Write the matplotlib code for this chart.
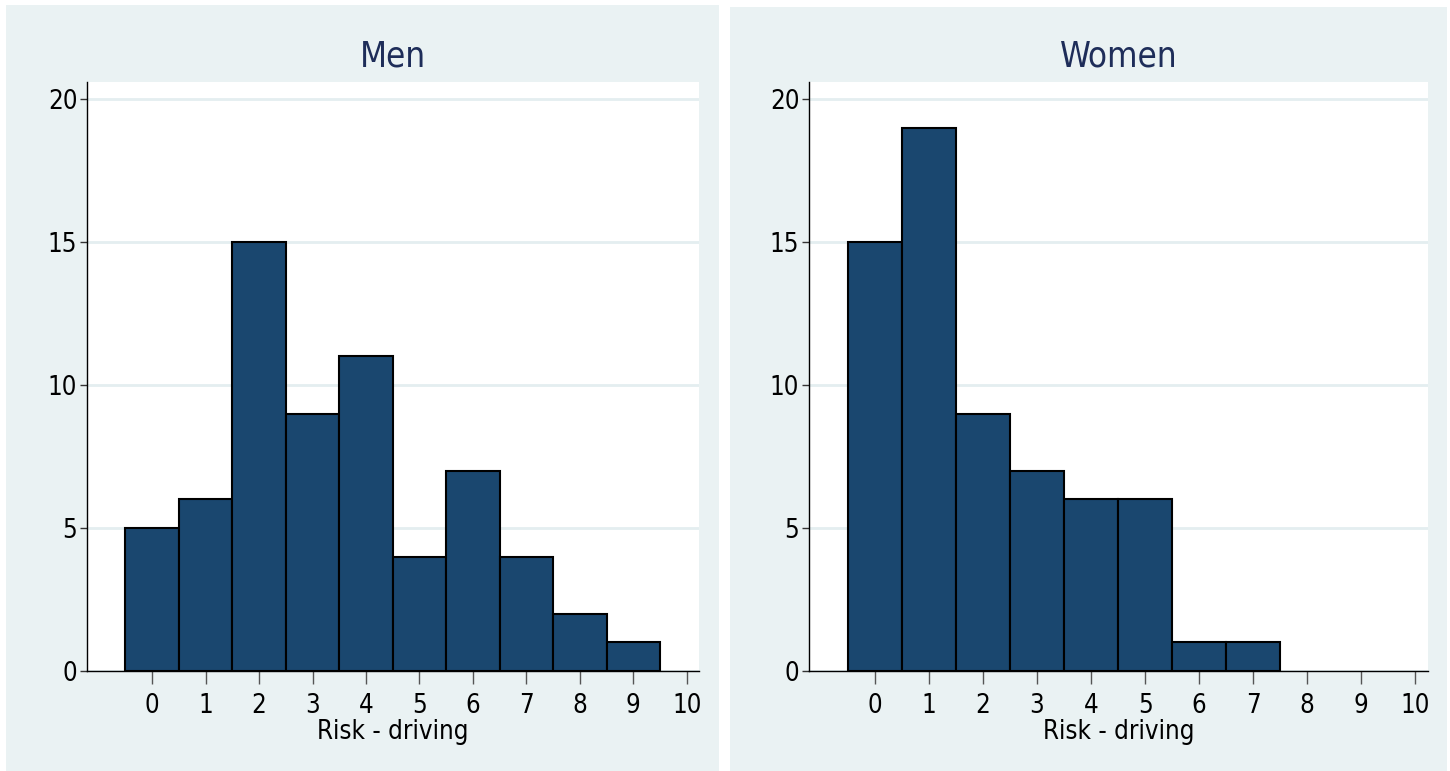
import matplotlib
matplotlib.use("Agg")
import os
import matplotlib.pyplot as plt
from matplotlib.patches import Rectangle
from matplotlib import font_manager
from matplotlib.font_manager import FontProperties

# ---- data ----
bins = [0, 1, 2, 3, 4, 5, 6, 7, 8, 9]
men_counts = [5, 6, 15, 9, 11, 4, 7, 4, 2, 1]
women_counts = [15, 19, 9, 7, 6, 6, 1, 1, 0, 0]
panel_titles = ["Men", "Women"]
x_ticks = [0, 1, 2, 3, 4, 5, 6, 7, 8, 9, 10]
y_ticks = [0, 5, 10, 15, 20]
x_label = "Risk - driving"

# ---- fonts: prefer a condensed sans (like Arial Narrow) if one is installed ----
def find_condensed():
    prefs = ["liberationsansnarrow-regular", "arialnarrow", "arial narrow",
             "dejavusanscondensed.ttf", "robotocondensed-regular", "opensans_condensed-regular",
             "opensanscondensed-regular", "notosans-condensed.ttf", "notosanscondensed-regular"]
    files = [f.fname for f in font_manager.fontManager.ttflist]
    for p in prefs:
        for fn in files:
            b = os.path.basename(fn).lower()
            if p in b:
                return fn
    for fn in files:
        b = os.path.basename(fn).lower()
        if ("narrow" in b or "condensed" in b) and not any(k in b for k in ["bold", "italic", "oblique", "light", "thin", "black", "semi", "extra", "medium"]):
            return fn
    return None

cond = find_condensed()
if cond:
    def fp(size):
        return FontProperties(fname=cond, size=size)
else:
    names = {f.name for f in font_manager.fontManager.ttflist}
    fam = [n for n in ["Liberation Sans", "DejaVu Sans"] if n in names]
    def fp(size):
        return FontProperties(family=fam, size=size)

BG = "#eaf2f3"
BAR = "#1a476f"
TITLE = "#1e2d59"
GRID = "#e4eef0"

W, H = 1450, 771
fig = plt.figure(figsize=(W / 100, H / 100), dpi=100)
fig.patch.set_facecolor("white")

def fx(px):
    return px / W

def fy(py):
    return 1 - py / H

# panel backgrounds
fig.patches.append(Rectangle((fx(6), 0), fx(718.7) - fx(6), fy(5), transform=fig.transFigure,
                             facecolor=BG, edgecolor="none", zorder=-10))
fig.patches.append(Rectangle((fx(730), 0), fx(1447) - fx(730), fy(7), transform=fig.transFigure,
                             facecolor=BG, edgecolor="none", zorder=-10))

panels = [
    (men_counts, 87, 699),
    (women_counts, 809, 1427.7),
]

tick_size = 18.5 if cond else 17.5
title_size = 25 if cond else 24

for (counts, left, right), title in zip(panels, panel_titles):
    ax = fig.add_axes([fx(left), fy(671), fx(right) - fx(left), fy(82) - fy(671)], zorder=1)
    ax.set_facecolor("white")
    xs = [b for b, c in zip(bins, counts) if c > 0]
    hs = [c for c in counts if c > 0]
    ax.bar(xs, hs, width=1.0, align="center", color=BAR, edgecolor="black",
           linewidth=1.5, zorder=3)
    ax.set_xlim(-1.22, 10.23)
    ax.set_ylim(0, 20.6)
    ax.set_xticks(x_ticks)
    ax.set_yticks(y_ticks)
    ax.tick_params(axis="x", length=9, width=1, color="#555555", pad=7)
    ax.tick_params(axis="y", length=5, width=1, color="#333333", pad=2)
    for lab in ax.get_xticklabels() + ax.get_yticklabels():
        lab.set_fontproperties(fp(tick_size))
    for s in ["top", "right"]:
        ax.spines[s].set_visible(False)
    for s in ["left", "bottom"]:
        ax.spines[s].set_linewidth(1.0)
        ax.spines[s].set_color("black")
        ax.spines[s].set_zorder(4)
    ax.yaxis.grid(True, color=GRID, linewidth=2, zorder=1)
    ax.set_axisbelow(True)
    ax.set_xlabel(x_label, fontproperties=fp(tick_size), labelpad=0)
    ax.set_title(title, fontproperties=fp(title_size), color=TITLE, pad=11)

fig.savefig("out.png", dpi=100, facecolor="white")
